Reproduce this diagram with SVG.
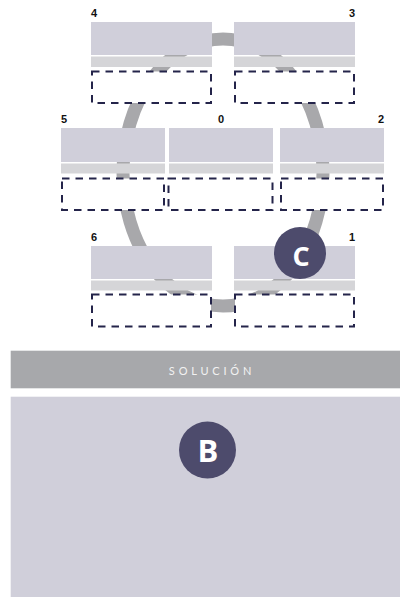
<svg xmlns="http://www.w3.org/2000/svg" width="400" height="597" viewBox="0 0 400 597">
<style>
.up{fill:#d0cfda}
.lo{fill:#d5d5d8}
.box{fill:#ffffff;stroke:#24244a;stroke-width:2;stroke-dasharray:7.5 6}
.num{font-family:"Liberation Sans",Arial,sans-serif;font-weight:bold;font-size:11px;fill:#111111}
.badge{fill:#4d4b6c}
.bl{font-family:"Open Sans","Liberation Sans",sans-serif;font-weight:bold;fill:#ffffff;text-anchor:middle}
</style>
<rect width="400" height="597" fill="#ffffff"/>
<g id="connectors">
<ellipse cx="223" cy="172.5" rx="100" ry="133.5" fill="none" stroke="#a8a8ab" stroke-width="13"/>
</g>
<g id="node-4">
<rect class="up" x="91" y="22" width="121" height="33"/>
<rect class="lo" x="91" y="56.5" width="121" height="10.5"/>
<rect class="box" x="92" y="71.5" width="119" height="31.5"/>
<text class="num" x="91" y="16.5">4</text>
</g>
<g id="node-3">
<rect class="up" x="234" y="22" width="121" height="33"/>
<rect class="lo" x="234" y="56.5" width="121" height="10.5"/>
<rect class="box" x="235" y="71.5" width="119" height="31.5"/>
<text class="num" x="355" y="16.5" text-anchor="end">3</text>
</g>
<g id="node-5">
<rect class="up" x="61" y="128" width="104" height="34"/>
<rect class="lo" x="61" y="163.5" width="104" height="10"/>
<rect class="box" x="62" y="178.5" width="102" height="31.5"/>
<text class="num" x="61" y="123">5</text>
</g>
<g id="node-0">
<rect class="up" x="169" y="128" width="104" height="34"/>
<rect class="lo" x="169" y="163.5" width="104" height="10"/>
<rect class="box" x="168.5" y="178.5" width="104" height="31.5"/>
<text class="num" x="221" y="123" text-anchor="middle">0</text>
</g>
<g id="node-2">
<rect class="up" x="280" y="128" width="104" height="34"/>
<rect class="lo" x="280" y="163.5" width="104" height="10"/>
<rect class="box" x="281" y="178.5" width="102" height="31.5"/>
<text class="num" x="384" y="123" text-anchor="end">2</text>
</g>
<g id="node-6">
<rect class="up" x="91" y="246" width="121" height="33"/>
<rect class="lo" x="91" y="280.5" width="121" height="10"/>
<rect class="box" x="92" y="294.5" width="119" height="32"/>
<text class="num" x="91" y="241">6</text>
</g>
<g id="node-1">
<rect class="up" x="234" y="246" width="121" height="33"/>
<rect class="lo" x="234" y="280.5" width="121" height="10"/>
<rect class="box" x="235" y="294.5" width="119" height="32"/>
<text class="num" x="355" y="241" text-anchor="end">1</text>
</g>
<g id="badge-C">
<circle class="badge" cx="300" cy="253" r="26"/>
<text class="bl" x="301" y="265.5" font-size="27">C</text>
</g>
<g id="solucion">
<rect x="10.7" y="350.7" width="389.3" height="37.6" fill="#a7a8ab"/>
<text x="212" y="375" font-family="Lato,'Liberation Sans',sans-serif" font-size="11" letter-spacing="3.8" fill="#f2f2f2" text-anchor="middle">SOLUCIÓN</text>
</g>
<g id="panel-B">
<rect x="10.7" y="396.7" width="389.3" height="200.3" fill="#d0cfda"/>
<circle class="badge" cx="207.5" cy="450" r="28.5"/>
<text class="bl" x="208" y="461.5" font-size="31">B</text>
</g>
</svg>
